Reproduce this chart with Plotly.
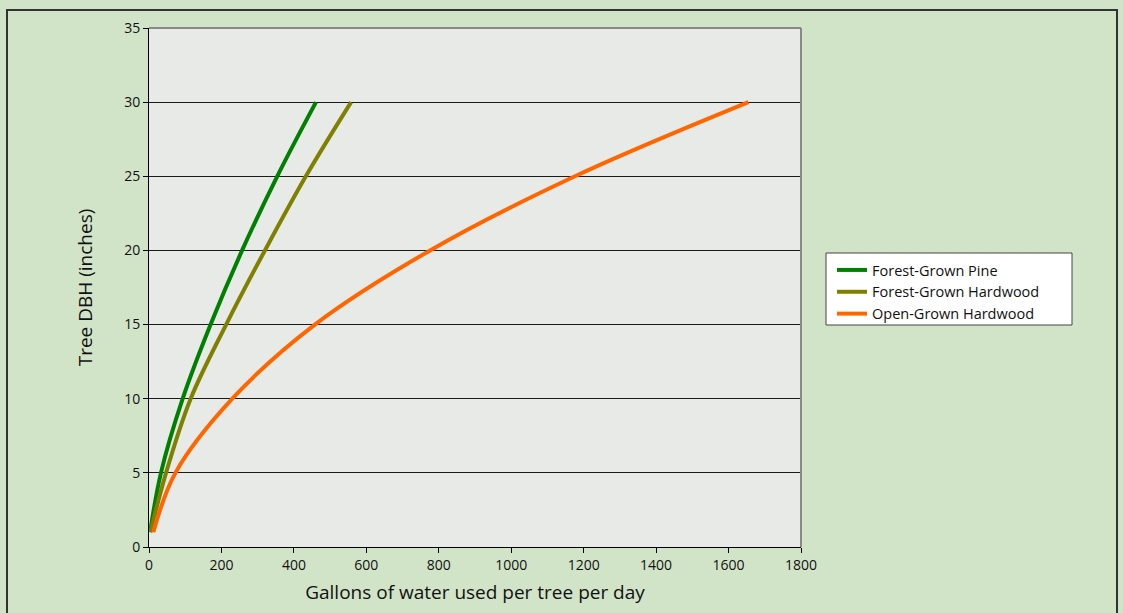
import plotly.graph_objects as go

# Data (DBH in inches vs gallons/day)
dbh = [1, 5, 10, 15, 20, 25, 30]
pine_gal = [3, 33, 93, 170, 257, 354, 461]
fhard_gal = [4, 47, 115, 213, 320, 433, 558]
ohard_gal = [12, 73, 230, 458, 776, 1176, 1655]

series_names = ["Forest-Grown Pine", "Forest-Grown Hardwood", "Open-Grown Hardwood"]
series_vals = [pine_gal, fhard_gal, ohard_gal]
colors = ["#008000", "#808000", "#ff6600"]

x_ticks = [0, 200, 400, 600, 800, 1000, 1200, 1400, 1600, 1800]
y_ticks = [0, 5, 10, 15, 20, 25, 30, 35]

FONT = "Open Sans"

fig = go.Figure()
for name, vals, col in zip(series_names, series_vals, colors):
    fig.add_trace(go.Scatter(
        x=vals, y=dbh, mode="lines", name=name,
        line=dict(color=col, width=4, shape="spline", smoothing=1.0),
    ))

W, H = 1123, 613
L, R, T, B = 149, 322, 28, 66
pw, ph = W - L - R, H - T - B

def px_x(p):
    return (p - L) / pw

def px_y(p):
    return (H - B - p) / ph

fig.update_layout(
    width=W, height=H,
    margin=dict(l=L, r=R, t=T, b=B),
    paper_bgcolor="#d1e4c8",
    plot_bgcolor="#e8eae7",
    font=dict(family=FONT, size=14, color="#111"),
    showlegend=True,
    legend=dict(
        x=px_x(832), y=px_y(254), xanchor="left", yanchor="top",
        bgcolor="rgba(0,0,0,0)", borderwidth=0,
        font=dict(family=FONT, size=14.5, color="#111"),
        tracegroupgap=0, itemwidth=30,
    ),
    xaxis=dict(
        range=[0, 1800], tickvals=x_ticks, showgrid=False, zeroline=False,
        showline=True, linecolor="#000", linewidth=1,
        ticks="outside", ticklen=5, tickcolor="#000",
        tickfont=dict(family=FONT, size=14, color="#111"),
        title=dict(text="Gallons of water used per tree per day",
                   font=dict(family=FONT, size=19, color="#111"), standoff=12),
    ),
    yaxis=dict(
        range=[0, 35], tickvals=y_ticks, showgrid=True, gridcolor="#1a1a1a", gridwidth=1,
        zeroline=False, showline=True, linecolor="#000", linewidth=1,
        ticks="outside", ticklen=5, tickcolor="#000",
        tickfont=dict(family=FONT, size=14, color="#111"),
        title=dict(text="Tree DBH (inches)",
                   font=dict(family=FONT, size=19, color="#111"), standoff=26),
    ),
    shapes=[
        dict(type="line", xref="paper", yref="paper", x0=0, x1=1, y0=1, y1=1,
             line=dict(color="#888", width=2), layer="above"),
        dict(type="line", xref="paper", yref="paper", x0=1, x1=1, y0=0, y1=1,
             line=dict(color="#888", width=2), layer="above"),
        # outer frame
        dict(type="rect", xref="paper", yref="paper",
             x0=px_x(7), x1=px_x(1117), y0=px_y(640), y1=px_y(10),
             line=dict(color="#333", width=2), fillcolor="rgba(0,0,0,0)", layer="below"),
        # legend box
        dict(type="rect", xref="paper", yref="paper",
             x0=px_x(826), x1=px_x(1072), y0=px_y(325), y1=px_y(253),
             line=dict(color="#444", width=1), fillcolor="#ffffff", layer="above"),
    ],
)

fig.write_html(
    "out.html",
    config={"displayModeBar": False},
    post_script="document.body.style.margin='0';document.body.style.padding='0';"
                "document.body.style.overflow='hidden';",
)
